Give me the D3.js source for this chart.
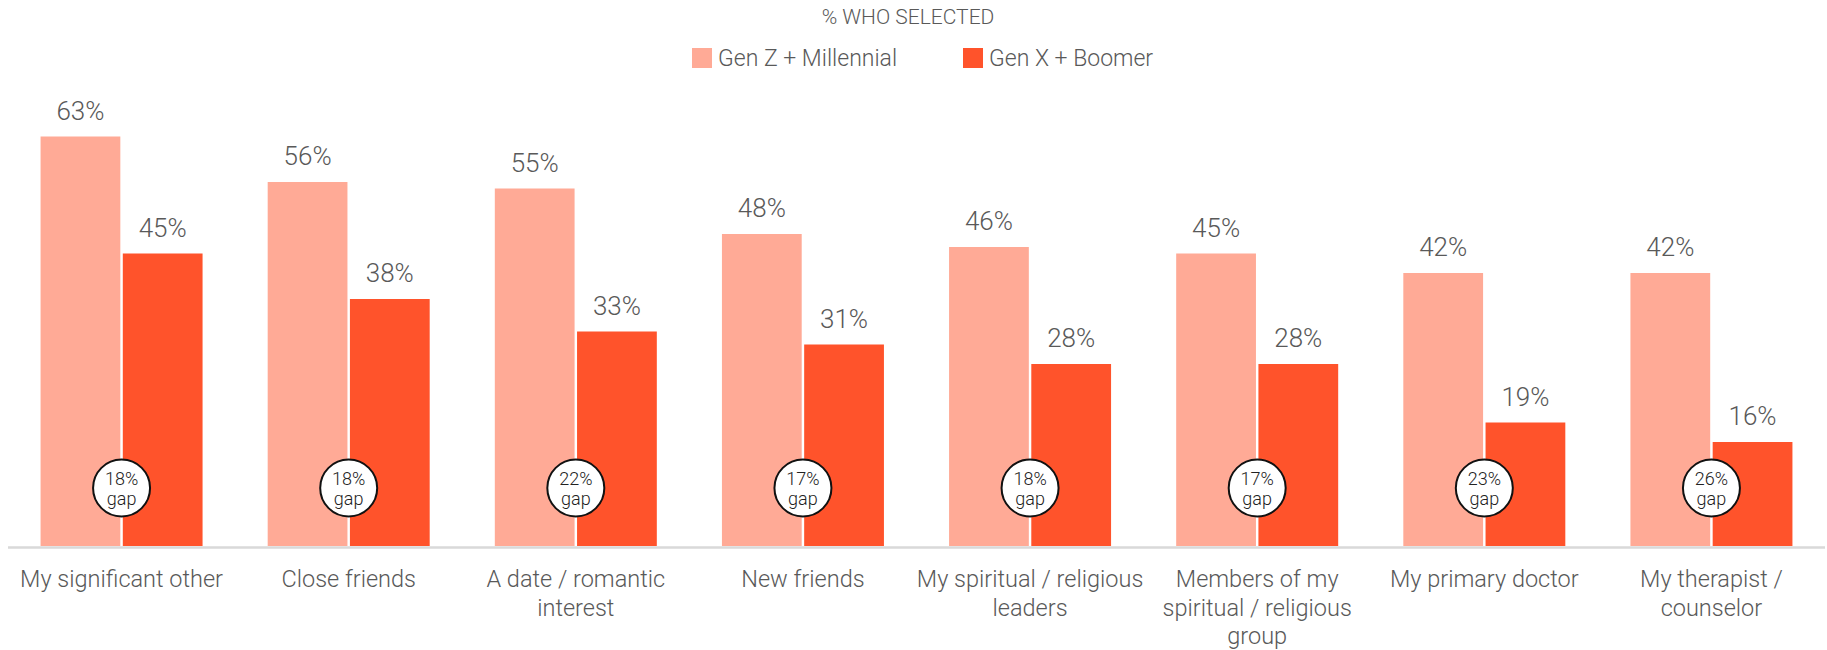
<!DOCTYPE html>
<html>
<head>
<meta charset="utf-8">
<script src="https://cdn.jsdelivr.net/npm/d3@7"></script>
<style>
  body { margin: 0; background: #fff; }
  svg { display: block; font-family: Roboto, "Liberation Sans", sans-serif; }
</style>
</head>
<body>
<svg width="1827" height="650"></svg>
<script>
var categories = [
    ["My significant other"],
    ["Close friends"],
    ["A date / romantic", "interest"],
    ["New friends"],
    ["My spiritual / religious", "leaders"],
    ["Members of my", "spiritual / religious", "group"],
    ["My primary doctor"],
    ["My therapist /", "counselor"]
];
var series = ["Gen Z + Millennial", "Gen X + Boomer"];
var youngValues = [63, 56, 55, 48, 46, 45, 42, 42];
var olderValues = [45, 38, 33, 31, 28, 28, 19, 16];
var colors = ["#FFAA96", "#FF532B"];

var loadVis = function() {
    var svg = d3.select("svg"),
        width = +svg.attr("width");

    var rows = categories.map(function(c, i) {
        return { idx: i, lines: c, values: [youngValues[i], olderValues[i]] };
    });

    var baseY = 546;

    var x0 = d3.scaleBand()
        .domain(d3.range(categories.length))
        .range([8, 1825])
        .padding(0);

    var groupW = 162;
    var x1 = d3.scaleBand()
        .domain([0, 1])
        .range([(x0.bandwidth() - groupW) / 2, (x0.bandwidth() + groupW) / 2])
        .paddingInner(0.03);

    var y = d3.scaleLinear()
        .domain([0, 63])
        .range([baseY, baseY - 63 * 6.5]);

    // title + legend
    svg.append("text")
        .attr("x", 908).attr("y", 24)
        .attr("text-anchor", "middle")
        .attr("font-size", 21).attr("font-weight", 300)
        .attr("fill", "#595959")
        .text("% WHO SELECTED");

    var legendX = [692, 963];
    var legend = svg.append("g").selectAll("g")
        .data(series).enter().append("g")
            .attr("transform", function(d, i) { return "translate(" + legendX[i] + ",48)"; });
    legend.append("rect")
        .attr("width", 20).attr("height", 20)
        .attr("fill", function(d, i) { return colors[i]; });
    legend.append("text")
        .attr("x", 26).attr("y", 18)
        .attr("font-size", 23).attr("font-weight", 300)
        .attr("fill", "#595959")
        .text(function(d) { return d; });

    // axis baseline
    svg.append("line")
        .attr("x1", x0.range()[0]).attr("x2", x0.range()[1])
        .attr("y1", baseY + 1.5).attr("y2", baseY + 1.5)
        .attr("stroke", "#d9d9d9").attr("stroke-width", 2.5);

    var group = svg.append("g").selectAll("g")
        .data(rows).enter().append("g")
            .attr("transform", function(d) { return "translate(" + x0(d.idx) + ",0)"; });

    group.selectAll("rect")
        .data(function(d) { return d.values; })
        .enter().append("rect")
            .attr("x", function(d, i) { return x1(i); })
            .attr("y", function(d) { return y(d); })
            .attr("width", x1.bandwidth())
            .attr("height", function(d) { return baseY - y(d); })
            .attr("fill", function(d, i) { return colors[i]; });

    group.selectAll(".val")
        .data(function(d) { return d.values; })
        .enter().append("text")
            .attr("class", "val")
            .attr("x", function(d, i) { return x1(i) + x1.bandwidth() / 2; })
            .attr("y", function(d) { return y(d) - 17; })
            .attr("text-anchor", "middle")
            .attr("font-size", 26).attr("font-weight", 300)
            .attr("fill", "#595959")
            .text(function(d) { return d + "%"; });

    // gap bubble
    var cx = (x1(0) + x1.bandwidth() + x1(1)) / 2;
    group.append("circle")
        .attr("cx", cx).attr("cy", 488).attr("r", 28.5)
        .attr("fill", "#fff").attr("stroke", "#111").attr("stroke-width", 2);
    group.append("text")
        .attr("x", cx).attr("y", 485)
        .attr("text-anchor", "middle")
        .attr("font-size", 18).attr("font-weight", 300)
        .attr("fill", "#222")
        .text(function(d) { return (d.values[0] - d.values[1]) + "%"; });
    group.append("text")
        .attr("x", cx).attr("y", 505)
        .attr("text-anchor", "middle")
        .attr("font-size", 18).attr("font-weight", 300)
        .attr("fill", "#222")
        .text("gap");

    // category labels
    group.append("text")
        .attr("text-anchor", "middle")
        .attr("font-size", 23.5).attr("font-weight", 300)
        .attr("fill", "#595959")
        .selectAll("tspan")
        .data(function(d) { return d.lines; })
        .enter().append("tspan")
            .attr("x", x0.bandwidth() / 2)
            .attr("y", function(d, i) { return 587 + i * 28.5; })
            .text(function(d) { return d; });
}

document.addEventListener('DOMContentLoaded', loadVis, false);
</script>
</body>
</html>
